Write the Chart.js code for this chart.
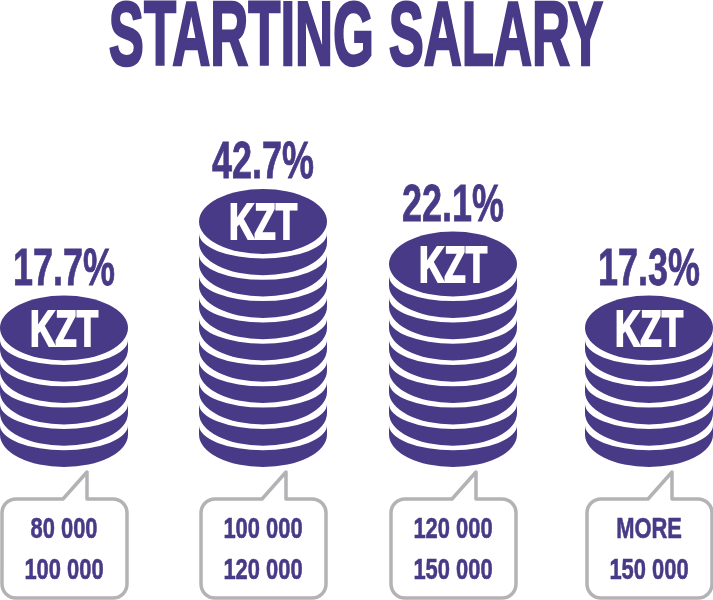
<!DOCTYPE html>
<html>
<head>
<meta charset="utf-8">
<title>Starting salary</title>
<script src="https://cdn.jsdelivr.net/npm/chart.js@4"></script>
<style>
  html, body { margin: 0; padding: 0; background: #fff; }
  canvas { display: block; }
</style>
</head>
<body>
<canvas id="grafico" width="713" height="600"></canvas>
<script>
const titulo = "STARTING SALARY";
const faixaLinha1 = ["80 000", "100 000", "120 000", "MORE"];
const faixaLinha2 = ["100 000", "120 000", "150 000", "150 000"];
const percentuais = [17.7, 42.7, 22.1, 17.3];
const moedas = [6, 11, 9, 6];
const moedaTexto = "KZT";

const ROXO = "#483a86";
const CINZA = "#b3b3b5";
const FONTE = '"Liberation Sans Narrow", "Liberation Sans", sans-serif';
const Y_MIN = -2.05;
// as pilhas do original nao sao bem equidistantes
const ajusteX = [0, 4, -1, 0];

// texto estreito: a fonte condensada nao existe, entao comprime na largura
function texto(ctx, str, x, y, tam, aperto, cor, peso) {
  ctx.font = `bold ${tam}px ${FONTE}`;
  ctx.fillStyle = cor;
  ctx.strokeStyle = cor;
  ctx.lineWidth = peso;
  ctx.lineJoin = "miter";
  ctx.textAlign = "center";
  ctx.textBaseline = "alphabetic";
  const larg = ctx.measureText(str).width * aperto;
  ctx.fillText(str, x, y, larg);
  ctx.strokeText(str, x, y, larg);
}

function desenhaPilha(ctx, cx, n, yEscala, base, rx) {
  const ry = (base - yEscala(1)) / 2;
  ctx.fillStyle = ROXO;
  for (let k = 1; k < n; k++) {
    // faixa de cada moeda: a borda de cima e mais achatada e deixa a fresta branca
    const yc = yEscala(k) + ry;
    const yFresta = yEscala(k + 1) + ry + 12;
    ctx.beginPath();
    ctx.ellipse(cx, yFresta, rx, ry - 7.5, 0, Math.PI, 0, true);
    ctx.lineTo(cx + rx, yc);
    ctx.ellipse(cx, yc, rx, ry, 0, 0, Math.PI);
    ctx.closePath();
    ctx.fill();
  }
  ctx.beginPath();
  ctx.ellipse(cx, yEscala(n) + ry, rx, ry, 0, 0, Math.PI * 2);
  ctx.fill();
}

function desenhaBalao(ctx, cx, topo, base) {
  const esq = cx - 62, dir = cx + 63, r = 14;
  ctx.strokeStyle = CINZA;
  ctx.lineWidth = 3.5;
  ctx.lineJoin = "round";
  ctx.beginPath();
  ctx.moveTo(esq + r, topo);
  ctx.lineTo(cx - 1, topo);
  ctx.lineTo(cx + 23, topo - 27);
  ctx.lineTo(cx + 23, topo);
  ctx.lineTo(dir - r, topo);
  ctx.arcTo(dir, topo, dir, topo + r, r);
  ctx.lineTo(dir, base - r);
  ctx.arcTo(dir, base, dir - r, base, r);
  ctx.lineTo(esq + r, base);
  ctx.arcTo(esq, base, esq, base - r, r);
  ctx.lineTo(esq, topo + r);
  ctx.arcTo(esq, topo, esq + r, topo, r);
  ctx.closePath();
  ctx.stroke();
}

const pilhasPlugin = {
  id: "pilhas",
  afterDatasetsDraw(chart) {
    const ctx = chart.ctx;
    const yEscala = v => chart.scales.y.getPixelForValue(v);
    ctx.save();
    texto(ctx, titulo, chart.width / 2 - 0.5, 64.5, 90, 0.585, ROXO, 2.5);
    chart.getDatasetMeta(0).data.forEach((bar, i) => {
      const cx = bar.x + ajusteX[i];
      desenhaPilha(ctx, cx, moedas[i], yEscala, bar.base, bar.width / 2);
      texto(ctx, percentuais[i].toFixed(1) + "%", cx, bar.y - 11, 51, 0.705, ROXO, 0.8);
      texto(ctx, moedaTexto, cx, bar.y + 50, 50, 0.7, "#fff", 2);
      desenhaBalao(ctx, cx, 499, 598);
      texto(ctx, faixaLinha1[i], cx, 538, 30, 0.73, ROXO, 0.6);
      texto(ctx, faixaLinha2[i], cx, 578.5, 30, 0.73, ROXO, 0.6);
    });
    ctx.restore();
  }
};

new Chart(document.getElementById("grafico"), {
  type: "bar",
  data: {
    labels: faixaLinha1.map((l, i) => `${l} ${faixaLinha2[i]}`),
    datasets: [{
      label: "Starting salary",
      data: moedas,
      base: Y_MIN,
      backgroundColor: "rgba(0,0,0,0)",
      barThickness: 128
    }]
  },
  options: {
    responsive: false,
    animation: false,
    layout: { padding: { left: 64, right: 64, top: 167.7, bottom: 133 } },
    plugins: { legend: { display: false }, tooltip: { enabled: false }, title: { display: false } },
    scales: {
      x: { display: false, offset: false },
      y: { display: false, min: Y_MIN, max: 12 }
    }
  },
  plugins: [pilhasPlugin]
});
</script>
</body>
</html>
